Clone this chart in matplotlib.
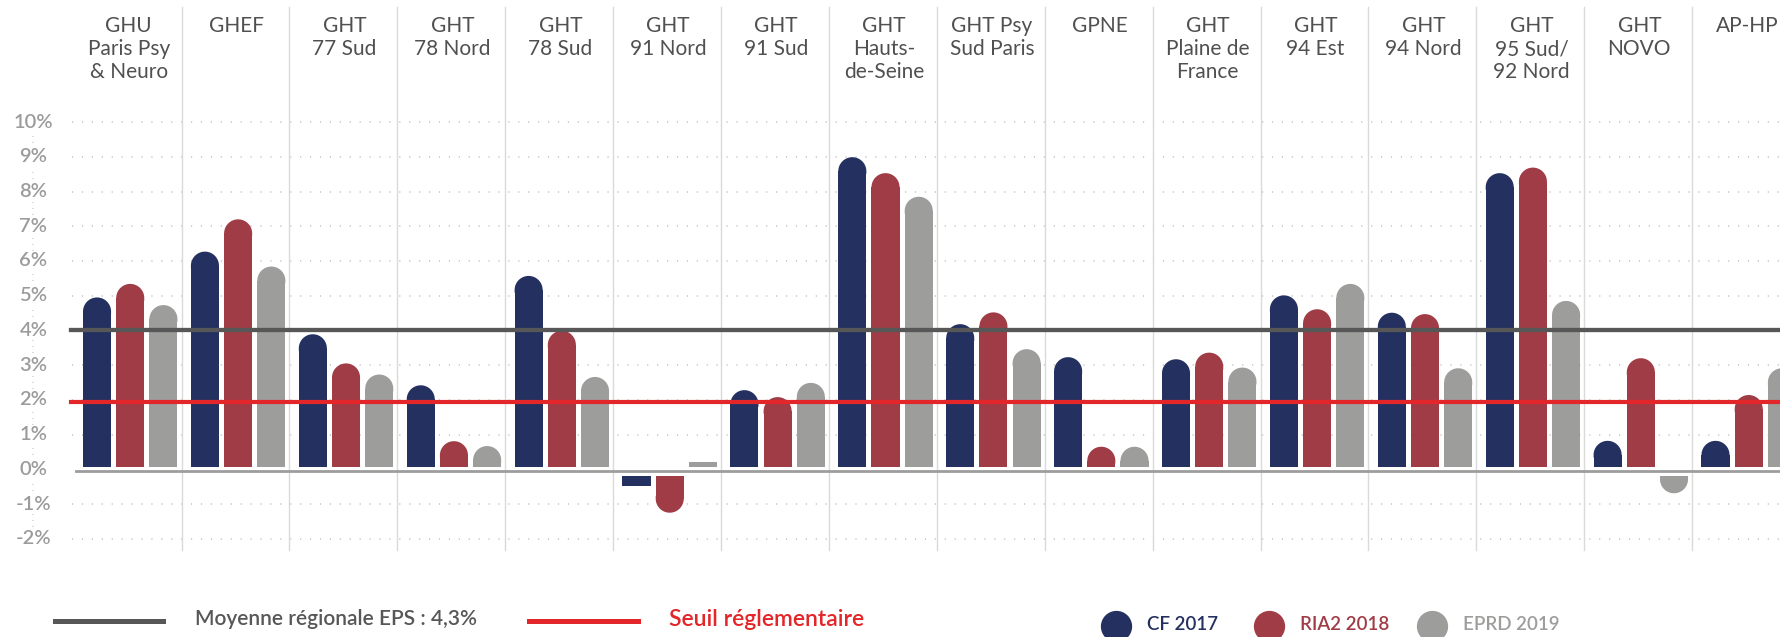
import numpy as np
import matplotlib
matplotlib.use("Agg")
import matplotlib.pyplot as plt
from matplotlib.lines import Line2D

# Données (%)
groupes = ["GHU\nParis Psy\n& Neuro", "GHEF", "GHT\n77 Sud", "GHT\n78 Nord", "GHT\n78 Sud",
           "GHT\n91 Nord", "GHT\n91 Sud", "GHT\nHauts-\nde-Seine", "GHT Psy\nSud Paris", "GPNE",
           "GHT\nPlaine de\nFrance", "GHT\n94 Est", "GHT\n94 Nord", "GHT\n95 Sud/\n92 Nord",
           "GHT\nNOVO", "AP-HP"]
cf_2017 = [4.95, 6.27, 3.89, 2.42, 5.57, -0.48, 2.28, 8.99, 4.18, 3.23, 3.17, 5.01, 4.51, 8.53, 0.82, 0.82]
ria2_2018 = [5.34, 7.20, 3.05, 0.81, 3.99, -1.25, 2.08, 8.53, 4.52, 0.65, 3.36, 4.61, 4.47, 8.69, 3.20, 2.14]
eprd_2019 = [4.73, 5.84, 2.73, 0.67, 2.66, 0.21, 2.49, 7.85, 3.46, 0.65, 2.93, 5.34, 2.91, 4.85, -0.69, 2.91]
series = ["CF 2017", "RIA2 2018", "EPRD 2019"]
graduations = list(range(-2, 11))
moyenne_eps = 4.02
seuil = 1.95

couleurs = ["#243160", "#a03c46", "#9d9d9c"]
gris_fonce = "#575757"
rouge = "#e3262a"
police = "Lato"

W, H = 1780, 637
fig = plt.figure(figsize=(W / 100, H / 100), dpi=100)
ax = fig.add_axes([0, 0, 1, 1])
xmin, xmax = -1.183, 15.314
ymin, ymax = -4.830, 13.517
ax.set_xlim(xmin, xmax)
ax.set_ylim(ymin, ymax)
ax.axis("off")

px_x = W / (xmax - xmin)   # pixels par unité x
px_y = H / (ymax - ymin)   # pixels par point de %


def x_px(p):
    return xmin + p / px_x


def y_px(p):
    return ymax - p / px_y


# grille pointillée
for g in graduations:
    if g != 0:
        ax.plot([x_px(72), xmax], [g, g], color="#cfcfcf", lw=1.4,
                linestyle=(0, (0.6, 4.5)), zorder=1)
    ax.text(x_px(33.5), g, f"{g}%", ha="center", va="center", fontsize=14.5,
            color="#9b9b9b", family=police, fontweight="semibold", zorder=3,
            bbox=dict(facecolor="white", edgecolor="none", pad=1))
ax.plot([x_px(33), x_px(33)], [-2, 10], color="#d5d5d5", lw=1.2,
        linestyle=(0, (0.6, 3)), zorder=1)

# séparateurs verticaux
for i in range(len(groupes) - 1):
    ax.plot([i + 0.5, i + 0.5], [y_px(7), y_px(550)], color="#dadada", lw=1, zorder=1)

# barres arrondies (corps + demi-ellipse)
largeur = 0.26
ecart = 0.3077
rayon = largeur * px_x / 2 / px_y
theta = np.linspace(0, np.pi, 40)
for k, valeurs in enumerate([cf_2017, ria2_2018, eprd_2019]):
    for i, v in enumerate(valeurs):
        x = i + (k - 1) * ecart + 0.024
        base = 0.075 if v >= 0 else -0.193
        signe = 1 if v >= 0 else -1
        if abs(v - base) > rayon:
            fin = v - signe * rayon
            ax.bar(x, fin - base, bottom=base, width=largeur, color=couleurs[k],
                   lw=0, zorder=2)
            bord = fin - signe * min(0.08, abs(fin - base))
            cx = np.concatenate([[x + largeur / 2], x + largeur / 2 * np.cos(theta), [x - largeur / 2]])
            cy = np.concatenate([[bord], fin + signe * rayon * np.sin(theta), [bord]])
            ax.fill(cx, cy, color=couleurs[k], lw=0, zorder=2)
        else:
            ax.bar(x, v - base, bottom=base, width=largeur, color=couleurs[k],
                   lw=0, zorder=2)

# axe zéro et lignes de référence
ax.plot([x_px(76), xmax], [-0.05, -0.05], color="#9d9d9d", lw=2, zorder=3)
ax.plot([x_px(71), xmax], [moyenne_eps, moyenne_eps], color=gris_fonce, lw=3.1, zorder=4)
ax.plot([x_px(71), xmax], [seuil, seuil], color=rouge, lw=3, zorder=4)

# noms des groupes
for i, nom in enumerate(groupes):
    ax.text(i + 0.01, y_px(16), nom, ha="center", va="top", fontsize=15,
            linespacing=1.2, color="#505050", family=police)

# légende
fig.add_artist(Line2D([55 / W, 163 / W], [1 - 621 / H] * 2, color=gris_fonce, lw=3.6))
fig.text(195 / W, 1 - 619 / H, "Moyenne régionale EPS : 4,3%", ha="left", va="center",
         fontsize=15, color=gris_fonce, family=police, fontweight="semibold")
fig.add_artist(Line2D([529 / W, 638 / W], [1 - 621 / H] * 2, color=rouge, lw=3.6))
fig.text(669 / W, 1 - 620 / H, "Seuil réglementaire", ha="left", va="center",
         fontsize=16.5, color=rouge, family=police, fontweight="semibold")

pos_cercles = [1116, 1269, 1432]
for k, nom in enumerate(series):
    fig.add_artist(Line2D([pos_cercles[k] / W], [1 - 626 / H], marker="o", markersize=21.5,
                          color=couleurs[k], lw=0))
    fig.text((pos_cercles[k] + 31) / W, 1 - 624 / H, nom, ha="left", va="center",
             fontsize=13.5, color=couleurs[k], family=police, fontweight="semibold")

fig.savefig("out.png", dpi=100)
